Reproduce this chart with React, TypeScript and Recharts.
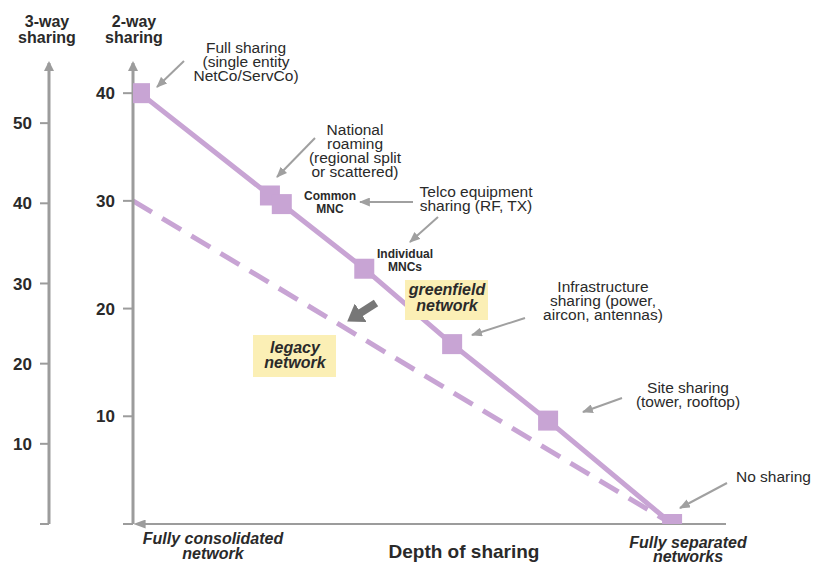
import { LineChart, Line, XAxis, YAxis, ReferenceLine } from "recharts";

// greenfield network: depth of sharing vs. 2-way sharing value
const depth = [1.3, 25.4, 27.6, 42.9, 59.2, 77, 100];
const twoWay = [40, 30.5, 29.7, 23.7, 16.7, 9.6, 0];

// legacy network (dashed)
const legacyDepth = [0, 100];
const legacyTwoWay = [30, 0];

const twoWayTicks = [0, 10, 20, 30, 40];
const threeWayTicks = [0, 10, 20, 30, 40, 50];

const greenfield = depth.map((d, i) => ({ depth: d, share: twoWay[i] }));
const legacy = legacyDepth.map((d, i) => ({ depth: d, share: legacyTwoWay[i] }));

const PURPLE = "#c8a4d4";
const AXIS = "#9c9c9c";
const TEXT = "#2a2a2a";
const FONT = "'Liberation Sans', Arial, sans-serif";
const BOX = "#fbefb5";

// axis ids: recharts stacks left axes by id, "a" sits next to the plot
const TWO = "a-two";
const THREE = "b-three";

const tickStyle = { fontSize: 17, fontWeight: 700, fill: TEXT, fontFamily: FONT };

const notes = [
  { lines: ["Full sharing", "(single entity", "NetCo/ServCo)"], x: 246, y: 53 },
  { lines: ["National", "roaming", "(regional split", "or scattered)"], x: 355, y: 135 },
  { lines: ["Telco equipment", "sharing (RF, TX)"], x: 476, y: 197 },
  { lines: ["Infrastructure", "sharing (power,", "aircon, antennas)"], x: 603, y: 292 },
  { lines: ["Site sharing", "(tower, rooftop)"], x: 688, y: 393 },
];

const callouts = [
  [184, 61, 157, 87],
  [315, 138, 277, 177],
  [413, 202, 360, 202],
  [438, 217, 410, 242],
  [525, 318, 472, 335],
  [622, 398, 583, 412],
  [727, 483, 680, 508],
];

function Square(p: any) {
  if (p.cx == null || p.cy == null) return <g key={p.index} />;
  return <rect key={p.index} x={p.cx - 10} y={p.cy - 10} width={20} height={20} fill={PURPLE} />;
}

function Lines({ lines, x, y, step = 14, size = 15.5, weight = 400, italic = false }: any) {
  return (
    <text x={x} y={y} textAnchor="middle" fontSize={size} fontWeight={weight}
      fontStyle={italic ? "italic" : "normal"} fill={TEXT} fontFamily={FONT}>
      {lines.map((l: string, i: number) => (
        <tspan key={i} x={x} y={y + i * step}>{l}</tspan>
      ))}
    </text>
  );
}

export default function App() {
  return (
    <div style={{ position: "absolute", left: 0, top: 0, width: 815, height: 564, background: "#fff" }}>
      <svg width={0} height={0} style={{ position: "absolute" }}>
        <defs>
          <marker id="axisArrow" viewBox="0 0 10 10" refX="8" refY="5" markerWidth="10" markerHeight="10"
            markerUnits="userSpaceOnUse" orient="auto-start-reverse">
            <path d="M0,0 L10,5 L0,10 z" fill={AXIS} />
          </marker>
          <marker id="xArrow" viewBox="0 0 10 10" refX="2" refY="5" markerWidth="12" markerHeight="9"
            markerUnits="userSpaceOnUse" orient="auto-start-reverse" preserveAspectRatio="none">
            <path d="M0,0 L10,5 L0,10 z" fill={AXIS} />
          </marker>
          <marker id="callArrow" viewBox="0 0 10 10" refX="9" refY="5" markerWidth="11" markerHeight="9"
            markerUnits="userSpaceOnUse" orient="auto" preserveAspectRatio="none">
            <path d="M0,0 L10,5 L0,10 z" fill="#a0a0a0" />
          </marker>
          <marker id="bigArrow" viewBox="0 0 10 10" refX="2" refY="5" markerWidth="16" markerHeight="22"
            markerUnits="userSpaceOnUse" orient="auto" preserveAspectRatio="none">
            <path d="M0,0 L10,5 L0,10 z" fill="#777" />
          </marker>
        </defs>
      </svg>

      <LineChart width={815} height={564} margin={{ top: 63, right: 89, bottom: 40, left: 0 }}>
        <XAxis type="number" dataKey="depth" domain={[0, 110]} hide allowDataOverflow />
        <YAxis yAxisId={TWO} type="number" domain={[0, 42.8]} allowDataOverflow ticks={twoWayTicks}
          interval={0} width={84} tickSize={10} tickMargin={8}
          axisLine={{ stroke: AXIS, strokeWidth: 3, markerStart: "url(#axisArrow)" }}
          tickLine={{ stroke: AXIS, strokeWidth: 2 }} tick={tickStyle}
          tickFormatter={(v: number) => (v === 0 ? "" : String(v))} />
        <YAxis yAxisId={THREE} type="number" domain={[0, 57.5]} allowDataOverflow ticks={threeWayTicks}
          interval={0} width={49} tickSize={9} tickMargin={8}
          axisLine={{ stroke: AXIS, strokeWidth: 3, markerStart: "url(#axisArrow)" }}
          tickLine={{ stroke: AXIS, strokeWidth: 2 }} tick={tickStyle}
          tickFormatter={(v: number) => (v === 0 ? "" : String(v))} />
        <ReferenceLine yAxisId={TWO} segment={[{ x: 1.9, y: 0 }, { x: 110, y: 0 }]} ifOverflow="visible"
          shape={(p: any) => (
            <line x1={p.x1} y1={p.y1} x2={p.x2} y2={p.y2} stroke={AXIS} strokeWidth={2}
              markerStart="url(#xArrow)" />
          )} />
        <Line yAxisId={TWO} data={legacy} dataKey="share" type="linear" stroke={PURPLE} strokeWidth={5}
          strokeDasharray="22 12" dot={false} activeDot={false} isAnimationActive={false} />
        <Line yAxisId={TWO} data={greenfield} dataKey="share" type="linear" stroke={PURPLE} strokeWidth={5}
          dot={Square} activeDot={false} isAnimationActive={false} />
      </LineChart>

      <svg width={815} height={564} style={{ position: "absolute", left: 0, top: 0, pointerEvents: "none" }}>
        <Lines lines={["3-way", "sharing"]} x={47} y={27} step={16} size={16} weight={700} />
        <Lines lines={["2-way", "sharing"]} x={134} y={27} step={16} size={16} weight={700} />

        {notes.map((n, i) => (
          <Lines key={i} lines={n.lines} x={n.x} y={n.y} />
        ))}
        <text x={736} y={482} fontSize={15.5} fill={TEXT} fontFamily={FONT}>No sharing</text>
        <Lines lines={["Common", "MNC"]} x={330} y={200} step={13} size={12} weight={700} />
        <Lines lines={["Individual", "MNCs"]} x={405} y={258} step={13} size={12} weight={700} />

        {callouts.map((c, i) => (
          <line key={i} x1={c[0]} y1={c[1]} x2={c[2]} y2={c[3]} stroke="#a0a0a0" strokeWidth={2}
            markerEnd="url(#callArrow)" />
        ))}
        <line x1={376} y1={303} x2={358} y2={314.5} stroke="#777" strokeWidth={8} markerEnd="url(#bigArrow)" />

        <rect x={405} y={280} width={83} height={40} fill={BOX} />
        <Lines lines={["greenfield", "network"]} x={447} y={295} step={16} size={16} weight={700} italic />
        <rect x={253} y={335} width={83} height={42} fill={BOX} />
        <Lines lines={["legacy", "network"]} x={295} y={353} step={15} size={16} weight={700} italic />

        <Lines lines={["Fully consolidated", "network"]} x={213} y={544} step={15} size={16} weight={700} italic />
        <text x={464} y={558} textAnchor="middle" fontSize={19} fontWeight={700} fill={TEXT} fontFamily={FONT}>
          Depth of sharing
        </text>
        <Lines lines={["Fully separated", "networks"]} x={688} y={548} step={14} size={16} weight={700} italic />
      </svg>
    </div>
  );
}
